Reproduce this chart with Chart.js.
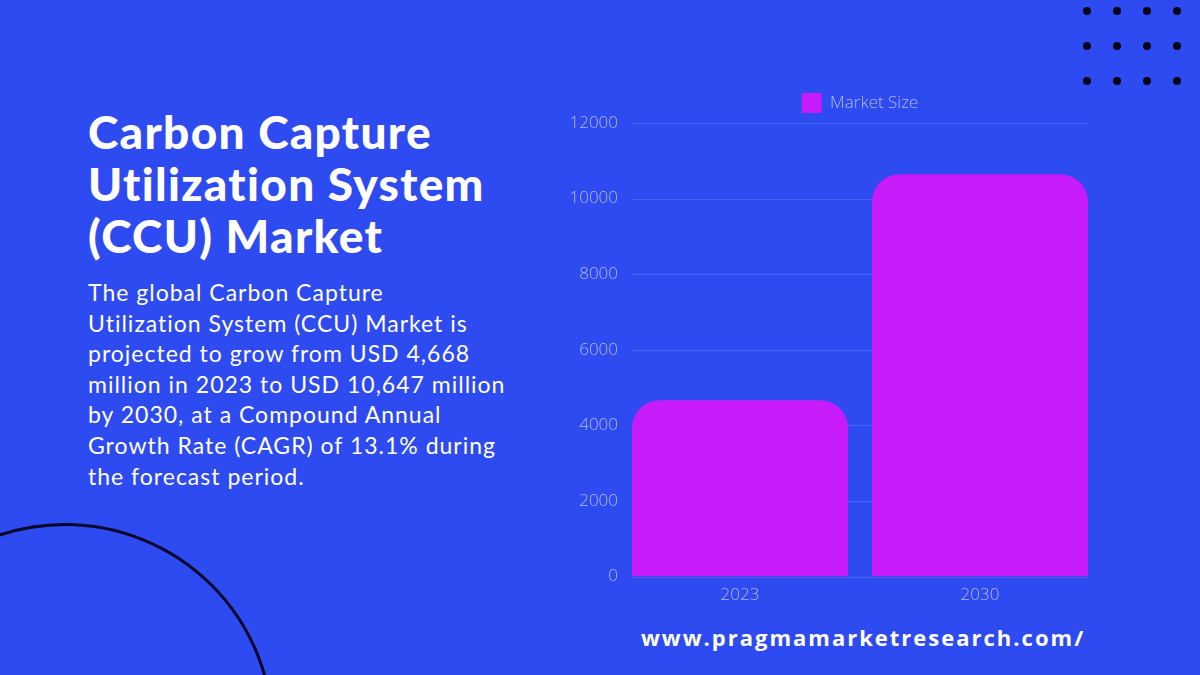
<!DOCTYPE html>
<html>
<head>
<meta charset="utf-8">
<title>Carbon Capture Utilization System (CCU) Market</title>
<script src="https://cdn.jsdelivr.net/npm/chart.js@4"></script>
<style>
  html, body { margin: 0; padding: 0; }
  body {
    width: 1200px; height: 675px; overflow: hidden; position: relative;
    background: #2e4af1;
    font-family: "Lato", "Open Sans", sans-serif;
  }
  .title {
    position: absolute; left: 88px; top: 106px;
    color: #ffffff; font-family: "Lato", sans-serif; font-weight: 900;
    font-size: 46px; line-height: 52px; letter-spacing: 1.3px;
  }
  .body-text {
    position: absolute; left: 88px; top: 277px; width: 460px;
    color: #ffffff; font-family: "Lato", sans-serif; font-weight: 400;
    font-size: 23px; line-height: 30.6px; letter-spacing: 1.0px;
  }
  .url {
    position: absolute; left: 641px; top: 622px;
    color: #ffffff; font-family: "Open Sans", sans-serif; font-weight: 700;
    font-size: 22px; letter-spacing: 2px; line-height: 30px;
  }
  .dot {
    position: absolute; width: 8px; height: 8px; border-radius: 50%; background: #05051a;
  }
  .ring {
    position: absolute; left: -144px; top: 523px; width: 418px; height: 418px;
    border: 3px solid #07072a; border-radius: 50%; box-sizing: border-box;
  }
  #chartBox { position: absolute; left: 560px; top: 83px; width: 540px; height: 530px; }
</style>
</head>
<body>
<div class="ring"></div>
<div id="dots"></div>

<div class="title">Carbon Capture<br>Utilization System<br>(CCU) Market</div>
<div class="body-text">The global Carbon Capture<br>Utilization System (CCU) Market is<br>projected to grow from USD 4,668<br>million in 2023 to USD 10,647 million<br>by 2030, at a Compound Annual<br>Growth Rate (CAGR) of 13.1% during<br>the forecast period.</div>
<div class="url">www.pragmamarketresearch.com/</div>

<div id="chartBox"><canvas id="chart"></canvas></div>

<script>
// Market size, USD million
const years = ["2023", "2030"];
const marketSize = [4668, 10647];
const seriesName = "Market Size";
const yTicks = [0, 2000, 4000, 6000, 8000, 10000, 12000];

// 4 x 3 grid of decorative dots, top right corner
const dots = document.getElementById("dots");
for (let r = 0; r < 3; r++) {
  for (let c = 0; c < 4; c++) {
    const d = document.createElement("div");
    d.className = "dot";
    d.style.left = (1083 + c * 30) + "px";
    d.style.top = (7 + r * 35) + "px";
    dots.appendChild(d);
  }
}

const labelColor = "#b2baf7";
const gridColor = "rgba(255,255,255,0.14)";
const labelFont = { family: "Open Sans", size: 17, weight: 300 };

// Horizontal value lines that run only across the span covered by the bars
const barSpanGrid = {
  id: "barSpanGrid",
  beforeDatasetsDraw(chart) {
    const meta = chart.getDatasetMeta(0);
    if (!meta.data.length) return;
    const first = meta.data[0], last = meta.data[meta.data.length - 1];
    const x0 = first.x - first.width / 2;
    const x1 = last.x + last.width / 2;
    const y = chart.scales.y;
    const ctx = chart.ctx;
    ctx.save();
    ctx.strokeStyle = gridColor;
    ctx.lineWidth = 1;
    yTicks.forEach(v => {
      const py = Math.round(y.getPixelForValue(v)) + 0.5;
      ctx.beginPath();
      ctx.moveTo(x0, py);
      ctx.lineTo(x1, py);
      ctx.stroke();
    });
    ctx.restore();
  }
};

new Chart(document.getElementById("chart"), {
  type: "bar",
  data: {
    labels: years,
    datasets: [{
      label: seriesName,
      data: marketSize,
      backgroundColor: "#c71bf9",
      borderWidth: 0,
      borderSkipped: "start",
      borderRadius: { topLeft: 28, topRight: 28, bottomLeft: 0, bottomRight: 0 },
      barPercentage: 0.9,
      categoryPercentage: 1.0
    }]
  },
  plugins: [barSpanGrid],
  options: {
    responsive: true,
    maintainAspectRatio: false,
    animation: false,
    layout: { padding: { left: 0, right: 0, top: 0, bottom: 0 } },
    plugins: {
      legend: {
        display: true,
        position: "top",
        fullSize: false,
        labels: {
          boxWidth: 20, boxHeight: 20, padding: 10,
          color: labelColor,
          font: labelFont
        }
      },
      tooltip: { enabled: false }
    },
    scales: {
      x: {
        grid: { display: false, drawTicks: false },
        border: { display: false },
        ticks: { color: labelColor, padding: 8, font: labelFont }
      },
      y: {
        min: 0,
        max: yTicks[yTicks.length - 1],
        afterBuildTicks: (scale) => { scale.ticks = yTicks.map(v => ({ value: v })); },
        afterFit: (scale) => { scale.width = 60; },
        grid: { display: false, drawTicks: false },
        border: { display: false },
        ticks: {
          color: labelColor, padding: 2, font: labelFont,
          callback: (v) => String(v)
        }
      }
    }
  }
});
</script>
</body>
</html>
